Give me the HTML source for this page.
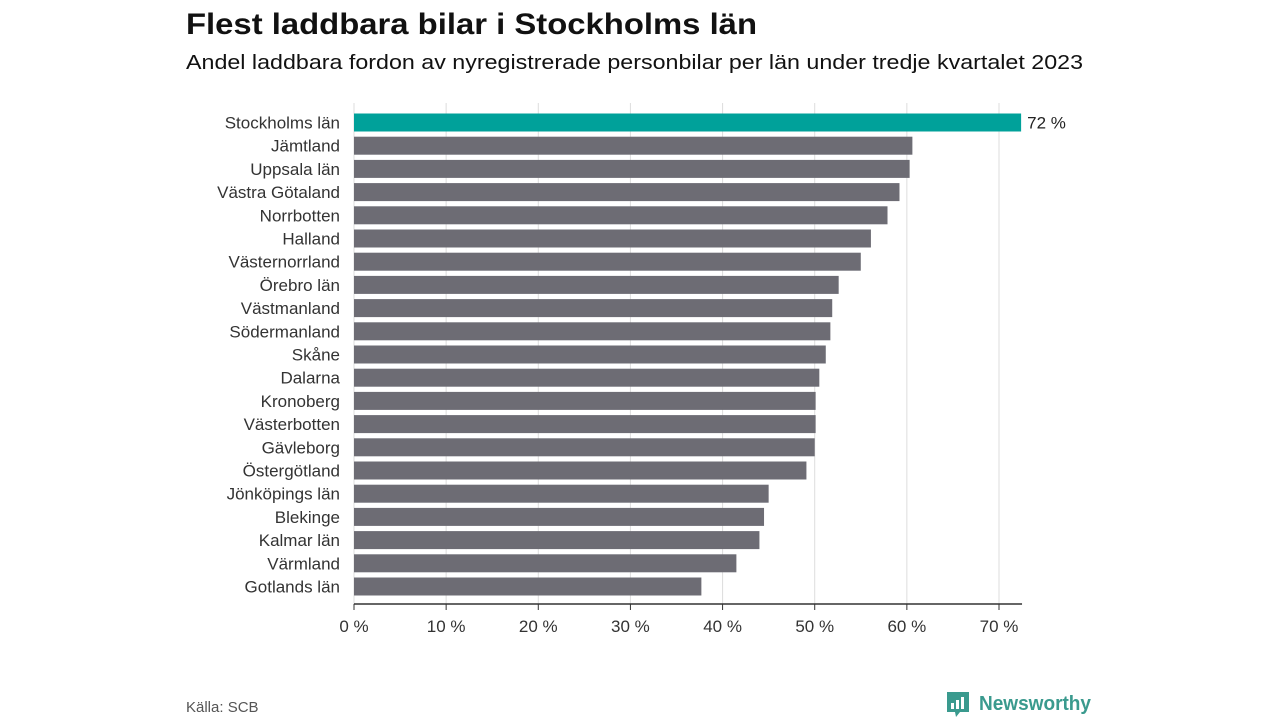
<!DOCTYPE html>
<html><head><meta charset="utf-8"><style>
body{margin:0;background:#fff;font-family:"Liberation Sans",sans-serif}
svg{display:block}
</style></head><body>
<svg id="chart" width="1280" height="720">
<text x="186" y="34" font-size="30" font-weight="bold" fill="#111" textLength="571" lengthAdjust="spacingAndGlyphs">Flest laddbara bilar i Stockholms län</text>
<text x="186" y="69" font-size="20" fill="#111" textLength="897" lengthAdjust="spacingAndGlyphs">Andel laddbara fordon av nyregistrerade personbilar per län under tredje kvartalet 2023</text>
<g id="grid"></g><g id="bars"></g><g id="axis"></g>
<text x="186" y="712" font-size="15" fill="#555">Källa: SCB</text>
<g>
<path d="M947 692 h22 v20 h-9 l-4 5 l-1 -5 h-8 z" fill="#3a9a8e"/>
<rect x="951" y="703" width="3" height="6" fill="#fff"/><rect x="956" y="700" width="3" height="9" fill="#fff"/><rect x="961" y="697" width="3" height="12" fill="#fff"/>
<text x="979" y="710" font-size="20" fill="#3a9a8e" font-weight="bold" textLength="112" lengthAdjust="spacingAndGlyphs">Newsworthy</text>
</g>
</svg>
<script>
const categories=["Stockholms län","Jämtland","Uppsala län","Västra Götaland","Norrbotten","Halland","Västernorrland","Örebro län","Västmanland","Södermanland","Skåne","Dalarna","Kronoberg","Västerbotten","Gävleborg","Östergötland","Jönköpings län","Blekinge","Kalmar län","Värmland","Gotlands län"];
const values=[72.4,60.6,60.3,59.2,57.9,56.1,55.0,52.6,51.9,51.7,51.2,50.5,50.1,50.1,50.0,49.1,45.0,44.5,44.0,41.5,37.7];
const ticks=[0,10,20,30,40,50,60,70];
const NS="http://www.w3.org/2000/svg";
const x0=354,pxPer=(999-354)/70,yTop=122.5,step=23.2,bh=18;
const xs=v=>x0+v*pxPer, ys=i=>yTop+i*step;
function mk(t,a,p){const e=document.createElementNS(NS,t);for(const k in a)e.setAttribute(k,a[k]);p.appendChild(e);return e;}
const grid=document.getElementById('grid'),bars=document.getElementById('bars'),axis=document.getElementById('axis');
ticks.forEach(t=>{
 const g=mk('line',{x1:xs(t),x2:xs(t),y1:103,y2:604,stroke:'#ddd','stroke-width':1},grid);
 
 
 const tk=mk('line',{x1:xs(t),x2:xs(t),y1:604,y2:610,stroke:'#333','stroke-width':1},axis);
 
 
 const l=mk('text',{x:xs(t),y:632,'font-size':17,fill:'#333','text-anchor':'middle'},axis);
 l.textContent=t+' %';
 
 
});
const ax=mk('line',{x1:x0,x2:xs(72.5),y1:604,y2:604,stroke:'#333','stroke-width':1.5},axis);


categories.forEach((c,i)=>{
 const r=mk('rect',{x:x0,y:ys(i)-bh/2,width:xs(values[i])-x0,height:bh,fill:i===0?'#00a19a':'#6d6c74'},bars);
 
 
 const l=mk('text',{x:340,y:ys(i)+6,'font-size':17,fill:'#333','text-anchor':'end'},bars);
 l.textContent=c;
 
 
});
const vl=mk('text',{x:xs(values[0])+6,y:ys(0)+6,'font-size':17,fill:'#222'},bars);
vl.textContent=Math.round(values[0])+' %';


</script>
</body></html>
